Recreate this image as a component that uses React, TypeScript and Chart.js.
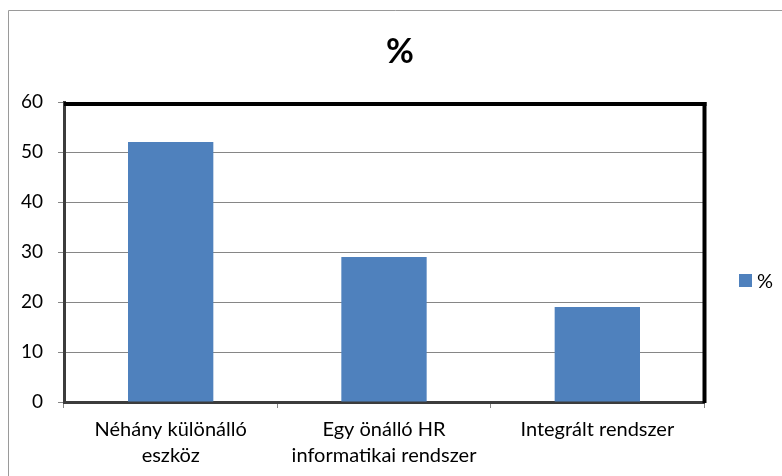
import React, { useEffect, useRef } from "react";
import { Chart, registerables } from "chart.js";

Chart.register(...registerables);

const categories: (string | string[])[] = [
  ["Néhány különálló", "eszköz"],
  ["Egy önálló HR", "informatikai rendszer"],
  "Integrált rendszer",
];
const seriesLabel = "%";
const seriesValues = [52, 29, 19];
const yTicks = { min: 0, max: 60, step: 10 };
const chartTitle = "%";

const FONT = "Lato";
const BAR_COLOR = "#4F81BD";

const framePlugin = {
  id: "frame",
  beforeDraw(chart: any) {
    const ctx = chart.ctx;
    ctx.save();
    ctx.strokeStyle = "#9a9a9a";
    ctx.lineWidth = 1;
    ctx.beginPath();
    ctx.moveTo(8.5, chart.height);
    ctx.lineTo(8.5, 10.5);
    ctx.lineTo(chart.width, 10.5);
    ctx.stroke();
    ctx.restore();
  },
  afterDraw(chart: any) {
    const { ctx, chartArea: a } = chart;
    ctx.save();
    ctx.strokeStyle = "#000";
    ctx.lineWidth = 4;
    ctx.beginPath();
    ctx.moveTo(a.left, a.top + 2);
    ctx.lineTo(a.right + 2.5, a.top + 2);
    ctx.stroke();
    ctx.beginPath();
    ctx.moveTo(a.right + 0.5, a.top);
    ctx.lineTo(a.right + 0.5, a.bottom + 1);
    ctx.stroke();
    // legend
    const ds = chart.data.datasets[0];
    const cy = 280.5;
    const bx = a.right + 35;
    ctx.fillStyle = ds.backgroundColor;
    ctx.fillRect(bx, cy - 6.5, 13, 13);
    ctx.fillStyle = "#000";
    ctx.font = `20px ${FONT}`;
    ctx.textBaseline = "middle";
    ctx.textAlign = "left";
    ctx.fillText(ds.label, bx + 18, cy + 1);
    ctx.restore();
  },
};

export default function App() {
  const ref = useRef<HTMLCanvasElement>(null);
  useEffect(() => {
    document.body.style.margin = "0";
    const chart = new Chart(ref.current!, {
      type: "bar",
      data: {
        labels: categories,
        datasets: [
          {
            label: seriesLabel,
            data: seriesValues,
            backgroundColor: BAR_COLOR,
            borderWidth: 0,
            barPercentage: 0.4,
            categoryPercentage: 1,
          },
        ],
      },
      options: {
        responsive: false,
        animation: false,
        devicePixelRatio: 1,
        layout: { padding: { top: 0, left: 18, right: 0, bottom: 0 } },
        plugins: {
          legend: { display: false },
          tooltip: { enabled: false },
          title: {
            display: true,
            text: chartTitle,
            color: "#000",
            font: { family: FONT, size: 34, weight: "bold", lineHeight: 1.2 },
            padding: { top: 31.6, bottom: 29.6 },
          },
        },
        scales: {
          x: {
            grid: {
              display: true,
              drawOnChartArea: false,
              drawTicks: true,
              tickLength: 6,
              color: "#868686",
              offset: true,
            },
            border: { display: true, color: "#3c3c3c", width: 3 },
            ticks: {
              color: "#000",
              font: { family: FONT, size: 20, lineHeight: 1.3 },
              padding: 9,
              maxRotation: 0,
              autoSkip: false,
            },
            afterFit: (s: any) => {
              s.height = 74;
            },
          },
          y: {
            min: yTicks.min,
            max: yTicks.max,
            ticks: {
              stepSize: yTicks.step,
              color: "#000",
              font: { family: FONT, size: 19 },
              padding: 15,
            },
            grid: { color: "#868686", tickLength: 6 },
            border: { display: true, color: "#3c3c3c", width: 3 },
            afterFit: (s: any) => {
              s.width = 46;
            },
          },
          yRight: {
            type: "linear",
            position: "right",
            display: true,
            ticks: { display: false },
            grid: { display: false },
            border: { display: false },
            afterFit: (s: any) => {
              s.width = 78;
            },
          },
        },
      },
      plugins: [framePlugin],
    });
    return () => chart.destroy();
  }, []);
  return (
    <div style={{ position: "fixed", left: 0, top: 0, width: 782, height: 476 }}>
      <canvas ref={ref} width={782} height={476} />
    </div>
  );
}
